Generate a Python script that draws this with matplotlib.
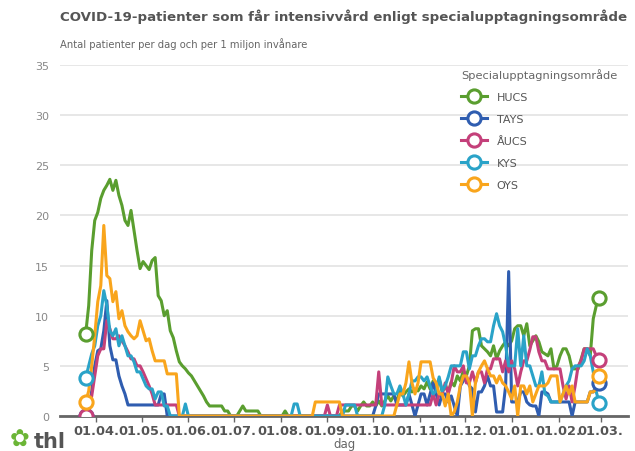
import matplotlib
matplotlib.use("Agg")
import matplotlib.pyplot as plt
import matplotlib.dates as mdates
import pandas as pd
import numpy as np

# ---------------- data (values every 2 days, per 1 million inhabitants) -------------
start_date = "2020-03-25"
step_days = 2

hucs = [8.2, 11, 16.5, 19.5, 20.3, 21.7, 22.5, 23, 23.6, 22.5,
        23.5, 22, 21, 19.5, 19, 20.5, 18.5, 16.5, 14.7, 15.4,
        15, 14.6, 15.5, 15.8, 12, 11.5, 10, 10.5, 8.5, 7.8,
        6.5, 5.4, 5, 4.7, 4.3, 4, 3.5, 3, 2.5, 2,
        1.4, 1, 1, 1, 1, 1, 0.5, 0.5, 0, 0,
        0, 0.5, 1, 0.5, 0.5, 0.5, 0.5, 0.5, 0, 0,
        0, 0, 0, 0, 0, 0, 0.5, 0, 0, 0,
        0, 0, 0, 0, 0, 0, 0, 0, 0, 0,
        0, 0, 0, 0, 0, 0.5, 0.5, 0.5, 1, 1,
        0.5, 1, 1.4, 1, 1, 1.4, 1, 1.5, 1, 1.5,
        2, 1.5, 2, 1.5, 2.5, 2, 2.4, 2.7, 2.4, 2.7,
        2.5, 3, 2.7, 3.4, 2.7, 3.5, 3, 3.7, 2.4, 3,
        2.4, 3.4, 3, 4, 3.5, 4.5, 4, 5, 8.5, 8.7,
        8.7, 7, 6.7, 6.4, 6, 7, 5.7, 6.5, 7, 7.4,
        7, 7.5, 8.7, 9, 9, 8, 9.2, 7, 7.5, 8,
        7.4, 6.4, 6.2, 6, 6.7, 4.7, 5, 6, 6.7, 6.7,
        6, 4.7, 4.7, 4.7, 5.7, 6.7, 6.7, 6, 9.7, 11,
        11.8]

tays = [0, 0.5, 2.5, 5, 6.5, 6.7, 8.5, 11.5, 7, 5.6,
        5.6, 4, 3, 2.2, 1.1, 1.1, 1.1, 1.1, 1.1, 1.1,
        1.1, 1.1, 1.1, 1.1, 1.1, 2.2, 2.2, 0, 0, 0,
        0, 0, 0, 0, 0, 0, 0, 0, 0, 0,
        0, 0, 0, 0, 0, 0, 0, 0, 0, 0,
        0, 0, 0, 0, 0, 0, 0, 0, 0, 0,
        0, 0, 0, 0, 0, 0, 0, 0, 0, 0,
        0, 0, 0, 0, 0, 0, 0, 0, 0, 0,
        0, 0, 0, 0, 0, 0, 0, 0, 0, 0,
        0, 0, 0, 0, 0, 0, 1, 2.2, 2.2, 2.2,
        2.2, 2.2, 2.2, 1.1, 1.1, 1.1, 1.1, 2.2, 1.1, 0,
        1.1, 2.2, 2.2, 1.1, 2.2, 3.3, 2.2, 1.1, 2.2, 2.2,
        1.4, 2, 1, 0, 3, 3.5, 4, 3, 2.7, 0.4,
        2.4, 2.4, 3, 4, 3, 3, 0.4, 0.4, 0.4, 3,
        14.4, 1.4, 1.4, 1.4, 2.4, 2.4, 1.4, 1.1, 1, 1,
        0, 2.4, 2.4, 2.2, 1.4, 1.4, 1.4, 1.4, 1.4, 1.4,
        1.4, 0, 1.4, 1.4, 1.4, 1.4, 1.4, 2.4, 2.4, 3,
        3.3]

aucs = [0, 0.5, 2, 4, 6, 6.7, 6.7, 9.5, 8.7, 7.7,
        7.7, 8, 7.5, 7, 6.4, 5.7, 5.7, 5, 5, 4.4,
        3.7, 3, 2.2, 1.1, 1.1, 1.1, 1.1, 1.1, 1.1, 1.1,
        1.1, 0, 0, 0, 0, 0, 0, 0, 0, 0,
        0, 0, 0, 0, 0, 0, 0, 0, 0, 0,
        0, 0, 0, 0, 0, 0, 0, 0, 0, 0,
        0, 0, 0, 0, 0, 0, 0, 0, 0, 0,
        0, 0, 0, 0, 0, 0, 0, 0, 0, 0,
        1.1, 0, 0, 0, 1.1, 1.1, 1.1, 1.1, 1.1, 1.1,
        1.1, 1.1, 1.1, 1.1, 1.1, 1.1, 1.1, 4.4, 1.1, 1.1,
        1.1, 1.1, 1.1, 1.1, 1.1, 1.1, 1.1, 1.1, 1.1, 1.1,
        1.1, 1.1, 1.1, 1.1, 1.1, 2.2, 1.1, 2.2, 2.2, 3.3,
        2.2, 3.3, 5, 4.4, 4.4, 5, 3.3, 3.3, 4.4, 3.3,
        4.4, 4.4, 3.3, 4.7, 4.7, 5.7, 5.7, 5.7, 4.4, 5.5,
        4.4, 5.5, 4.7, 3, 4.4, 5.5, 5.5, 6.6, 7.9, 7.9,
        6.4, 5.5, 5.5, 4.7, 4.7, 4.7, 4.7, 4.7, 3, 1.7,
        3, 1.4, 3, 5, 5.5, 6.7, 6.7, 6.7, 6.7, 6,
        5.6]

kys = [3.8, 5, 6.2, 7, 9, 10, 12.5, 11, 8.5, 8,
       8.7, 7, 8, 7, 6, 6, 5.4, 4.4, 4.4, 3.7,
       3, 2.7, 2.7, 1.7, 2.4, 2.4, 1, 1, 0, 0,
       0, 0, 0, 1.2, 0, 0, 0, 0, 0, 0,
       0, 0, 0, 0, 0, 0, 0, 0, 0, 0,
       0, 0, 0, 0, 0, 0, 0, 0, 0, 0,
       0, 0, 0, 0, 0, 0, 0, 0, 0, 1.2,
       1.2, 0, 0, 0, 0, 0, 0, 0, 0, 0,
       0, 0, 0, 0, 0, 0, 1.1, 1.1, 1.1, 1.1,
       0, 0, 0, 0, 0, 0, 0, 0, 0, 1.1,
       3.9, 3, 2.2, 2.2, 3, 2.2, 1.1, 2.2, 3.5, 3.5,
       3.9, 3.9, 3.5, 3.9, 3, 2.2, 2.5, 3.9, 2.5, 3,
       3.9, 5, 5, 5, 5, 6.4, 6.4, 4.7, 6, 6,
       7, 7.7, 7.7, 7.4, 7.4, 9, 10.2, 9, 8.4, 7,
       5, 5, 5, 8.7, 5, 8, 5, 5, 4, 3,
       3, 4.4, 2.2, 2, 1.4, 1.4, 1.4, 1.4, 2.2, 3,
       3.5, 4.7, 5, 5, 5, 5.5, 6.7, 6, 4.4, 2.4,
       1.3]

oys = [1.4, 2.5, 5, 8, 11.4, 13, 19, 14, 13.7, 11.4,
       12.4, 9.7, 10.5, 9, 8.4, 8, 7.7, 8, 9.5, 8.5,
       7.5, 7.7, 6.5, 5.5, 5.5, 5.5, 5.5, 4.2, 4.2, 4.2,
       4.2, 0, 0, 0, 0, 0, 0, 0, 0, 0,
       0, 0, 0, 0, 0, 0, 0, 0, 0, 0,
       0, 0, 0, 0, 0, 0, 0, 0, 0, 0,
       0, 0, 0, 0, 0, 0, 0, 0, 0, 0,
       0, 0, 0, 0, 0, 0, 1.4, 1.4, 1.4, 1.4,
       1.4, 1.4, 1.4, 1.4, 1.4, 0, 0, 0, 0, 0,
       0, 0, 0, 0, 0, 0, 0, 0, 0, 0,
       0, 0, 0, 1.1, 2.2, 2.2, 3.3, 5.4, 3.3, 2.2,
       3.3, 5.4, 5.4, 5.4, 5.4, 3.8, 3.3, 2.2, 2.2, 1,
       2.2, 0, 0.4, 1.4, 3, 4, 4, 3.3, 0, 3.3,
       4.4, 5, 5.5, 4.7, 4, 4, 3.3, 4, 3.3, 3,
       2.4, 1.7, 3, 0, 3, 3, 2.2, 3, 1.4, 2.2,
       3, 3, 3, 3.3, 4, 4, 4, 1.4, 2.2, 3,
       2.2, 3, 1.4, 1.4, 1.4, 1.4, 1.4, 2.4, 2.4, 2.7,
       4]

series_names = ["HUCS", "TAYS", "ÅUCS", "KYS", "OYS"]
series_values = [hucs, tays, aucs, kys, oys]
series_colors = ["#5a9e2f", "#2f5db0", "#c4407a", "#2aa3c8", "#f9a51c"]

title = "COVID-19-patienter som får intensivvård enligt specialupptagningsområde"
subtitle = "Antal patienter per dag och per 1 miljon invånare"
legend_title = "Specialupptagningsområde"
x_label = "dag"
y_ticks = [0, 5, 10, 15, 20, 25, 30, 35]

# ---------------- figure -------------------------------------------------------------
W, H = 635, 452
fig = plt.figure(figsize=(W / 100, H / 100), dpi=100)
ax = fig.add_axes([60 / W, (H - 417) / H, (628 - 60) / W, (417 - 66) / H])

handles = []
for name, vals, col in zip(series_names, series_values, series_colors):
    dates = pd.date_range(start_date, periods=len(vals), freq=f"{step_days}D")
    ax.plot(dates, vals, color=col, lw=2.2, solid_joinstyle="round", zorder=3)
    ax.plot([dates[0], dates[-1]], [vals[0], vals[-1]], ls="none", marker="o",
            ms=9.5, mfc="white", mec=col, mew=2.2, zorder=4)
    h, = ax.plot([], [], color=col, lw=2.2, marker="o", ms=9.5, mfc="white",
                 mec=col, mew=2.2, label=name)
    handles.append(h)

ax.set_ylim(0, 35)
ax.set_xlim(pd.Timestamp("2020-03-08"), pd.Timestamp("2021-03-19"))
ax.set_yticks(y_ticks)
ax.grid(axis="y", color="#e3e3e3", lw=1.2)
ax.set_axisbelow(True)
for s in ["top", "right", "left"]:
    ax.spines[s].set_visible(False)
ax.spines["bottom"].set_color("#666666")
ax.spines["bottom"].set_linewidth(2)
ax.tick_params(axis="y", length=0, labelsize=8, labelcolor="#888888", pad=8)
ax.tick_params(axis="x", length=4, width=1, color="#666666", labelsize=9.3,
               labelcolor="#555555", pad=1.5)

months = pd.date_range("2020-04-01", "2021-03-01", freq="MS")
ax.set_xticks(months)
ax.xaxis.set_major_formatter(mdates.DateFormatter("%d.%m."))
for lab in ax.get_xticklabels():
    lab.set_fontweight("bold")
ax.set_xlabel(x_label, fontsize=8.5, color="#666666", labelpad=0)

title_t = fig.text(60 / W, 1 - 17 / H, title, fontsize=10.5, fontweight="bold",
                   color="#555555", va="center", ha="left")
sub_t = fig.text(60 / W, 1 - 44 / H, subtitle, fontsize=8.5, color="#666666",
                 va="center", ha="left")

# THL logo
fig.text(20 / W, 1 - 440 / H, "✿", fontsize=17, color="#6bb536", ha="center", va="center")
fig.text(34 / W, 1 - 442 / H, "thl", fontsize=15, fontweight="bold", color="#555555",
         ha="left", va="center")

renderer = fig.canvas.get_renderer()


def fit_width(t, target):
    w = t.get_window_extent(renderer).width
    t.set_fontsize(t.get_fontsize() * target / w)


fit_width(title_t, 570)
fit_width(sub_t, 248)

# legend: title centred at y=75, labels at 97,119,...,185, labels start at x=503
leg_fs = 8.0
spacing = 0.85
for _ in range(3):
    leg = ax.legend(handles=handles, loc="upper left",
                    bbox_to_anchor=(0, 0), bbox_transform=fig.transFigure,
                    frameon=False, title=legend_title, fontsize=leg_fs,
                    title_fontsize=9.0, handlelength=2.3, labelspacing=spacing,
                    handletextpad=0.9, alignment="left", borderaxespad=0,
                    borderpad=0)
    fit_width(leg.get_title(), 156)
    fig.canvas.draw()
    texts = leg.get_texts()
    ys = [H - t.get_window_extent(renderer).y0 - t.get_window_extent(renderer).height / 2
          for t in texts]
    gap = (ys[-1] - ys[0]) / 4
    spacing += (22 - gap) / (leg_fs * 100 / 72)
# final placement
leg = ax.legend(handles=handles, loc="upper left", bbox_to_anchor=(0, 0),
                bbox_transform=fig.transFigure, frameon=False, title=legend_title,
                fontsize=leg_fs, title_fontsize=9.0, handlelength=2.3,
                labelspacing=spacing, handletextpad=0.9, alignment="left",
                borderaxespad=0, borderpad=0)
fit_width(leg.get_title(), 156)
fig.canvas.draw()
tb = leg.get_title().get_window_extent(renderer)
dx = 461 - tb.x0
dy = (H - 75) - (tb.y0 + tb.height / 2)
bb = leg.get_window_extent(renderer)
leg.set_bbox_to_anchor(((bb.x0 + dx) / W, (bb.y1 + dy) / H), transform=fig.transFigure)
leg.get_title().set_color("#666666")
for t in leg.get_texts():
    t.set_color("#555555")

fig.savefig("out.png", dpi=100)
